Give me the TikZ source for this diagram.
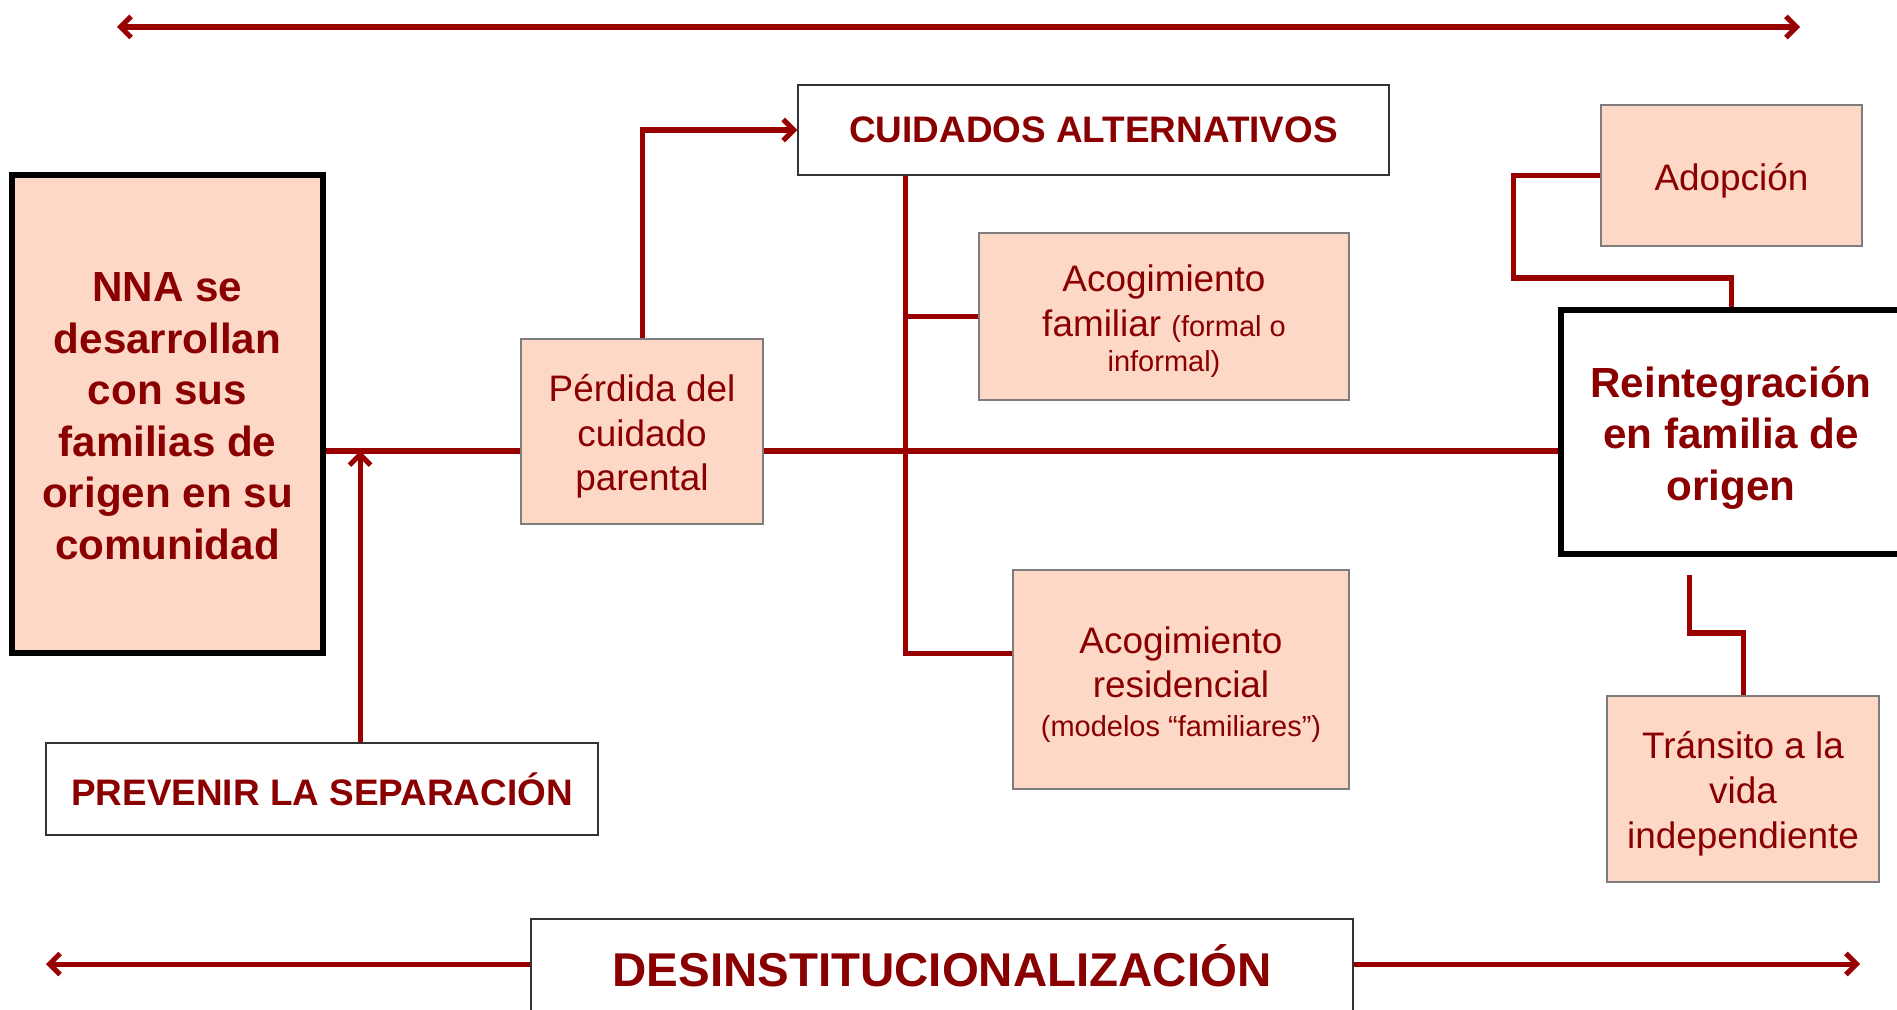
\documentclass[tikz,border=0pt]{standalone}
\usepackage{fontspec}
\setmainfont{Liberation Sans}
\usepackage{tikz}
\usetikzlibrary{arrows.meta}
\usepackage{xcolor}
\definecolor{linered}{RGB}{153,0,0}
\definecolor{textred}{RGB}{138,0,0}
\definecolor{peach}{RGB}{253,216,198}
\definecolor{boxgrey}{RGB}{125,125,125}
\tikzset{
  peachbox/.style={draw=boxgrey, fill=peach, line width=0.9pt, text=textred, align=center, inner sep=0pt},
  whitebox/.style={draw=black!80, fill=white, line width=0.9pt, text=textred, align=center, inner sep=0pt},
  thickbox/.style={draw=black, line width=3pt, text=textred, align=center, inner sep=0pt},
  link/.style={draw=linered, line width=2.85pt},
}
\newcommand{\bigbold}{\fontsize{24}{29.3}\selectfont\bfseries}
\newcommand{\midtext}{\fontsize{21}{25.5}\selectfont}
\newcommand{\smalltext}{\fontsize{16.5}{20}\selectfont}
\newcommand{\topstrut}[1][1em]{\rule{0pt}{#1}}

\begin{document}
\begin{tikzpicture}[x=0.02cm, y=-0.02cm, >={Straight Barb[length=6pt,width=12pt]}]
    \useasboundingbox (0,0) rectangle (1897,1010);
    % Flecha superior
    \coordinate (topL) at (117,27);
    \coordinate (topR) at (1800,27);
    \draw[link, <->] (topL) -- (topR);
    % Cajas principales
    \node[thickbox, fill=peach, minimum width=6.22cm, minimum height=9.56cm, font=\bigbold] (nna) at (167.5,414)
        {\topstrut[0.8em]NNA se\\desarrollan\\con sus\\familias de\\origen en su\\comunidad};
    \node[peachbox, minimum width=4.84cm, minimum height=3.7cm, font=\midtext] (perdida) at (642,431.5)
        {\topstrut Pérdida del\\cuidado\\parental};
    \node[whitebox, minimum width=11.04cm, minimum height=1.84cm, font=\midtext\bfseries] (prevenir) at (322,789)
        {PREVENIR LA SEPARACIÓN};
    \node[whitebox, minimum width=11.82cm, minimum height=1.8cm, font=\midtext\bfseries] (cuidados) at (1093.5,130)
        {CUIDADOS ALTERNATIVOS};
    \node[peachbox, minimum width=7.4cm, minimum height=3.34cm, font=\midtext] (acofam) at (1164,316.5)
        {\topstrut Acogimiento\\familiar {\smalltext(formal o}\\[-5.5pt]{\smalltext informal)}};
    \node[peachbox, minimum width=6.72cm, minimum height=4.38cm, font=\midtext] (acores) at (1181,679.5)
        {\topstrut Acogimiento\\residencial\\[-3.4pt]{\smalltext(modelos “familiares”)}};
    \node[thickbox, fill=white, minimum width=6.8cm, minimum height=4.88cm, font=\bigbold] (reint) at (1731,432)
        {\topstrut Reintegración\\en familia de\\origen};
    \node[peachbox, minimum width=5.22cm, minimum height=2.82cm, font=\midtext] (adopcion) at (1731.5,175.5)
        {\topstrut Adopción};
    \node[peachbox, minimum width=5.44cm, minimum height=3.72cm, font=\midtext] (transito) at (1743,789)
        {\topstrut Tránsito a la\\vida\\independiente};
    \node[whitebox, minimum width=16.44cm, minimum height=1.88cm, font=\fontsize{27}{32}\selectfont\bfseries] (desinst) at (942,966)
        {DESINSTITUCIONALIZACIÓN};
    % Linea central
    \coordinate (mainy) at (0,451);
    \draw[link] (nna.east |- mainy) -- (perdida.west |- mainy);
    \draw[link] (perdida.east |- mainy) -- (reint.west |- mainy);
    % Prevenir la separacion
    \coordinate (sep) at (360,451);
    \draw[link, ->] (prevenir.north -| sep) -- (sep);
    % Hacia cuidados alternativos
    \draw[link, ->] (perdida.north) |- (cuidados.west);
    \coordinate (trunk) at (905,653);
    \draw[link] (cuidados.south -| trunk) |- (acores.west |- trunk);
    \draw[link] (acofam.west) -- (acofam.west -| trunk);
    % Adopcion y transito
    \coordinate (adoptbend) at (1513,278);
    \draw[link] (adopcion.west) -| (adoptbend) -| (reint.north);
    \coordinate (indep) at (1689,575);
    \coordinate (indepbend) at (1689,633);
    \draw[link] (indep) -- (indepbend) -| (transito.north);
    % Flechas inferiores
    \coordinate (botL) at (46,964);
    \coordinate (botR) at (1860,964);
    \draw[link, ->] (desinst.west |- botL) -- (botL);
    \draw[link, ->] (desinst.east |- botR) -- (botR);
\end{tikzpicture}
\end{document}
